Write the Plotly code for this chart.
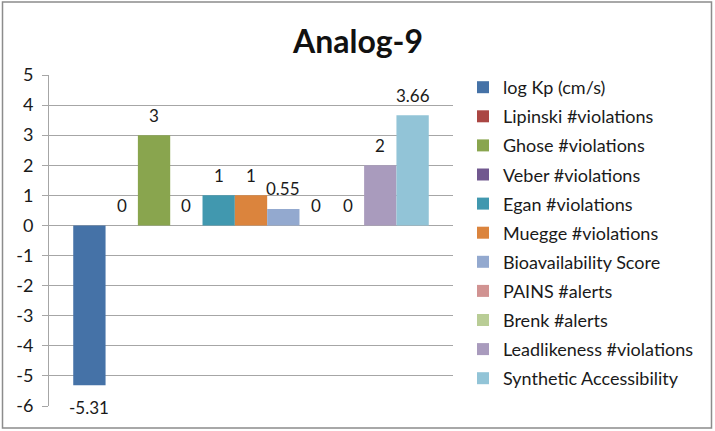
import plotly.graph_objects as go

title = "Analog-9"
category = [""]
series_names = [
    "log Kp (cm/s)",
    "Lipinski #violations",
    "Ghose #violations",
    "Veber #violations",
    "Egan #violations",
    "Muegge #violations",
    "Bioavailability Score",
    "PAINS #alerts",
    "Brenk #alerts",
    "Leadlikeness #violations",
    "Synthetic Accessibility",
]
series_values = [-5.31, 0, 3, 0, 1, 1, 0.55, 0, 0, 2, 3.66]
series_colors = [
    "#4572A7", "#AA4643", "#89A54E", "#71588F", "#4198AF", "#DB843D",
    "#93A9CF", "#D19392", "#B9CD96", "#A99BBD", "#92C4D7",
]
y_ticks = [-6, -5, -4, -3, -2, -1, 0, 1, 2, 3, 4, 5]
y_ticktext = [str(v) for v in y_ticks]

W, H = 715, 431
L, R, T, B = 49, 262, 75, 25
pw, ph = W - L - R, H - T - B
BARGAP = 0.12

FONT = "Lato, 'Open Sans', sans-serif"
TXT = "#1a1a1a"
GRID = "#a6a6a6"

fig = go.Figure()
n = len(series_names)
slot = (1 - BARGAP) / n
annotations = []
for i, (name, val, col) in enumerate(zip(series_names, series_values, series_colors)):
    fig.add_trace(go.Bar(
        x=category, y=[val], name=name, legendgroup=f"g{i}",
        marker=dict(color=col, line=dict(width=0)),
    ))
    xc = -(1 - BARGAP) / 2 + (i + 0.5) * slot
    annotations.append(dict(
        x=xc, y=val, xref="x", yref="y", text=f"{val:g}", showarrow=False,
        xanchor="center", yanchor="middle", yshift=20 if val >= 0 else -22,
        font=dict(family=FONT, size=17, color=TXT),
    ))

def px_x(p):
    return (p - L) / pw

def px_y(p):
    return 1 - (p - T) / ph

fig.add_shape(type="rect", xref="paper", yref="paper",
              x0=px_x(2.5), x1=px_x(711.5), y0=px_y(428), y1=px_y(2),
              line=dict(color="#8c8c8c", width=1.5), layer="below")

fig.update_layout(
    width=W, height=H,
    margin=dict(l=L, r=R, t=T, b=B),
    paper_bgcolor="white", plot_bgcolor="white",
    barmode="group", bargap=BARGAP, bargroupgap=0,
    font=dict(family=FONT, size=17, color=TXT),
    title=dict(text=f"<b>{title}</b>", x=358 / W, xref="container", xanchor="center",
               y=1 - 42 / H, yref="container", yanchor="middle",
               font=dict(family=FONT, size=32, color="#111")),
    xaxis=dict(showticklabels=False, showgrid=False, zeroline=False, showline=False),
    yaxis=dict(range=[-6, 5], tickvals=y_ticks, ticktext=y_ticktext,
               showgrid=True, gridcolor=GRID,
               gridwidth=1, zeroline=True, zerolinecolor=GRID, zerolinewidth=1,
               showline=True, linecolor=GRID, linewidth=1,
               ticks="outside", ticklen=6, tickcolor=GRID,
               ticklabelstandoff=5,
               tickfont=dict(family=FONT, size=18, color=TXT)),
    legend=dict(x=px_x(463), xanchor="left", y=px_y(69), yanchor="top",
                traceorder="grouped", tracegroupgap=2.7, maxheight=420,
                font=dict(family=FONT, size=18, color=TXT),
                bgcolor="rgba(0,0,0,0)"),
    annotations=annotations,
    showlegend=True,
)

fig.write_html("out.html", post_script="document.body.style.margin='0';",
               config={"displayModeBar": False})
